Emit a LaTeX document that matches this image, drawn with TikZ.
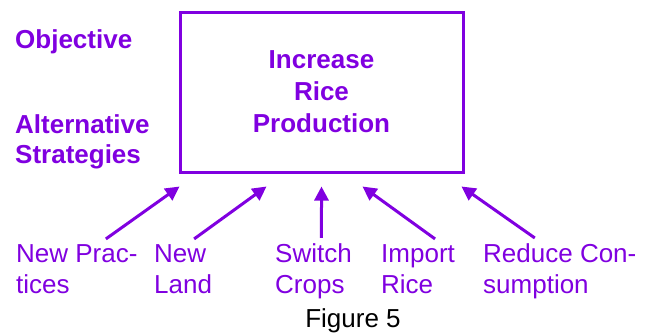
\documentclass[tikz,border=0pt]{standalone}
\usepackage{fontspec}
\setmainfont{Liberation Sans}
\usepackage{tikz}
\usetikzlibrary{arrows.meta, positioning}
\definecolor{ricepurple}{RGB}{128,0,224}

\begin{document}
\begin{tikzpicture}[
    x=1pt, y=-1pt,
    hdr/.style={text=ricepurple, inner sep=0pt, anchor=base west, align=left,
                font=\fontsize{26pt}{30pt}\selectfont\bfseries},
    goalbox/.style={draw=ricepurple, line width=3pt, minimum width=283pt,
                minimum height=160pt, align=center, text=ricepurple,
                font=\fontsize{26pt}{32pt}\selectfont\bfseries},
    strat/.style={text=ricepurple, inner sep=0pt, anchor=base west, align=left,
                font=\fontsize{26pt}{31pt}\selectfont},
    arr/.style={-{Triangle[length=14pt,width=14pt]}, line width=3pt, ricepurple}
  ]
  \useasboundingbox (0,0) rectangle (653,335);
  % headings on the left
  \node[hdr] (obj) at (15,48) {Objective};
  \node[hdr] (alt) at (15,163) {Alternative\\Strategies};
  % the goal
  \node[goalbox] (goal) at (321.5,92) {Increase\\Rice\\Production};
  % strategies
  \node[strat] (np) at (16,293) {New Prac-\\tices};
  \node[strat] (nl) at (154,293) {New\\Land};
  \node[strat] (sc) at (275,293) {Switch\\Crops};
  \node[strat] (ir) at (381,293) {Import\\Rice};
  \node[strat] (rc) at (483,293) {Reduce Con-\\sumption};
  \node[anchor=base, inner sep=0pt, font=\fontsize{26pt}{31pt}\selectfont]
    (cap) at (353,327) {Figure 5};
  % arrows up to the goal
  \draw[arr] ([xshift=29pt,yshift=5pt]np.north) -- ([xshift=-142pt,yshift=-13pt]goal.south);
  \draw[arr] ([xshift=11pt,yshift=5pt]nl.north) -- ([xshift=-55pt,yshift=-13pt]goal.south);
  \draw[arr] ([xshift=8pt,yshift=5pt]sc.north) -- ([yshift=-13pt]goal.south);
  \draw[arr] ([xshift=17pt,yshift=5pt]ir.north) -- ([xshift=41pt,yshift=-13pt]goal.south);
  \draw[arr] ([xshift=-25pt,yshift=5pt]rc.north) -- ([xshift=140pt,yshift=-13pt]goal.south);
\end{tikzpicture}
\end{document}
